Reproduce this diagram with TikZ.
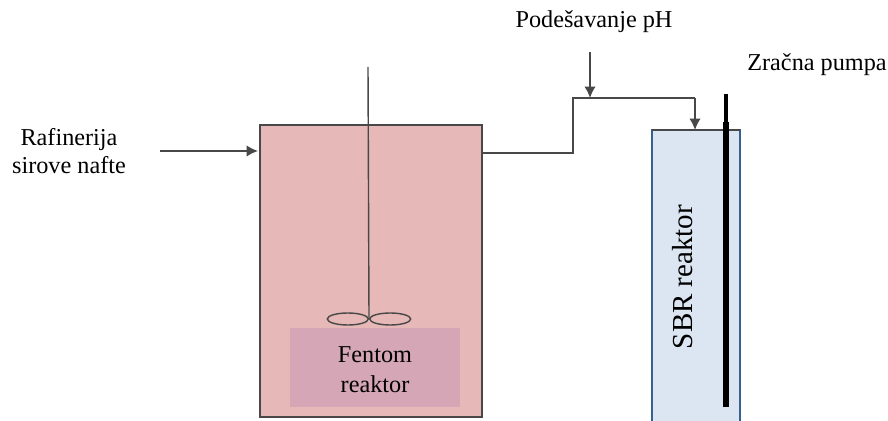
\documentclass[tikz,border=0pt]{standalone}
\usepackage{fontspec}
\setmainfont{Liberation Serif}
\usetikzlibrary{positioning}
\usetikzlibrary{arrows.meta}
\usetikzlibrary{shapes.geometric}
\definecolor{tankpink}{RGB}{230,184,183}
\definecolor{zonepink}{RGB}{213,166,181}
\definecolor{sbrblue}{RGB}{220,230,242}
\definecolor{sbredge}{RGB}{54,96,146}
\definecolor{pipegray}{RGB}{72,72,72}

\begin{document}
\begin{tikzpicture}[
    x=0.02cm, y=-0.02cm,
    >={Latex[length=6.5pt,width=6.5pt]},
    % node styles
    tank/.style = {
      draw=pipegray,
      line width=0.9pt,
      fill=tankpink,
      outer sep=0pt,
      minimum width=4.44cm,
      minimum height=5.84cm
    },
    zone/.style = {
      fill=zonepink,
      outer sep=0pt,
      minimum width=3.4cm,
      minimum height=1.58cm
    },
    sbr/.style = {
      draw=sbredge,
      line width=1.5pt,
      fill=sbrblue,
      outer sep=0pt,
      minimum width=1.76cm,
      minimum height=6.1cm
    },
    label/.style = {
      align=center,
      inner sep=0pt,
      font=\fontsize{13.8}{16}\selectfont
    },
    blade/.style = {draw=pipegray, line width=0.8pt, fill=none},
    % arrow styles
    pipe/.style = {line width=0.9pt, draw=pipegray},
    arr/.style = {->, line width=0.9pt, draw=pipegray},
    bar/.style = {line width=3.6pt, draw=black}
  ]
  \useasboundingbox (0,0) rectangle (888,421);

  % --- Nodes
  \node[tank] (tank) at (371,271) {};
  \node[zone] (zone) at (375,367.5) {};
  \node[label, font=\fontsize{13.8}{17}\selectfont] (zonelabel) at (375,370) {Fentom\\reaktor};
  \node[sbr, anchor=north west] (sbr) at (652,130) {};
  \node[label, rotate=90, font=\fontsize{16.5}{20}\selectfont] (sbrlabel) at (683,277) {SBR reaktor};
  \draw[pipe] (sbr.north west) -- (sbr.north east);

  \node[label] (feed) at (69,151) {Rafinerija\\sirove nafte};
  \node[label] (ph) at (594,22) {Podešavanje pH};
  \node[label] (air) at (817,65) {Zračna pumpa};

  % --- Stirrer
  \coordinate (hub) at (369,319);
  \coordinate (shafttop) at (368,67);
  \draw[blade] (hub) -- (shafttop);
  \node[blade, ellipse, minimum width=0.82cm, minimum height=0.24cm, inner sep=0pt, left=0pt of hub] (bladeleft) {};
  \node[blade, ellipse, minimum width=0.82cm, minimum height=0.24cm, inner sep=0pt, right=0pt of hub] (bladeright) {};

  % --- Arrows
  \coordinate (feedstart) at (160,151);
  \coordinate (tankin) at (258,151);
  \draw[arr] (feedstart) -- (tankin);

  \coordinate (bend) at (573,98);
  \coordinate (tankout) at (tank.east |- 0,153);
  \draw[pipe] (tankout) -- (bend |- tankout) -- (bend) -- (695,98) coordinate (overtop);
  \draw[arr] (overtop) -- (overtop |- sbr.north);

  \coordinate (phstart) at (590,52);
  \draw[arr] (phstart) -- (phstart |- bend);

  % --- Air pump
  \coordinate (pumptop) at (726,94);
  \coordinate (pumpend) at (726,407);
  \draw[line width=2.6pt, draw=black] (pumptop) -- (pumptop |- sbr.north);
  \draw[bar] (726,122) -- (pumpend);
\end{tikzpicture}
\end{document}
